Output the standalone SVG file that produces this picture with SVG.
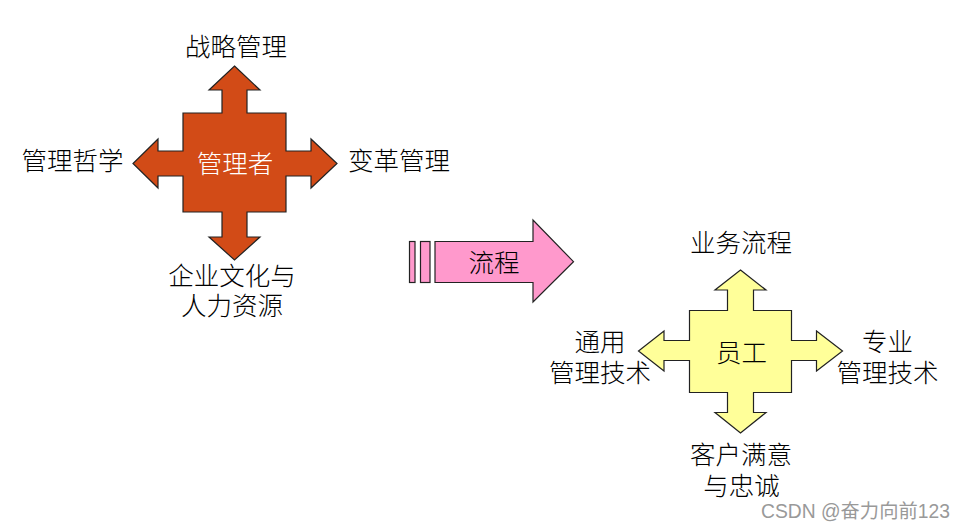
<svg xmlns="http://www.w3.org/2000/svg" width="965" height="532" viewBox="0 0 965 532">
<style>
.shape{stroke:#222;stroke-width:1.2;stroke-linejoin:miter}
.t{font-family:"Noto Sans CJK SC","Noto Sans",sans-serif;font-size:25.5px;font-weight:300;fill:#000;text-anchor:middle}
.w{fill:#fff}
.wm{font-family:"Liberation Sans","Noto Sans CJK SC",sans-serif;font-size:19.3px;fill:#999}
</style>
<rect width="965" height="532" fill="#fff"/>
<g id="manager">
<path class="shape" fill="#D24B17" d="M234.5,66 L260,90 L247,90 L247,113 L286,113 L286,151 L311,151 L311,139 L337,163.5 L311,188 L311,176 L286,176 L286,212 L247,212 L247,237 L260,237 L234.5,260 L209,237 L222,237 L222,212 L183,212 L183,176 L158,176 L158,188 L133,163.5 L158,139 L158,151 L183,151 L183,113 L222,113 L222,90 L209,90 Z"/>
<text class="t w" x="235" y="173">管理者</text>
</g>
<g id="strategy"><text class="t" x="236" y="55.5">战略管理</text></g>
<g id="philosophy"><text class="t" x="72.5" y="170">管理哲学</text></g>
<g id="change"><text class="t" x="399" y="170">变革管理</text></g>
<g id="culture"><text class="t" x="232" y="285">企业文化与</text><text class="t" x="232" y="315">人力资源</text></g>
<g id="process">
<rect class="shape" fill="#FF99CC" x="409.5" y="241.5" width="5.5" height="41"/>
<rect class="shape" fill="#FF99CC" x="420.5" y="241.5" width="9.5" height="41"/>
<path class="shape" fill="#FF99CC" d="M435,241.5 L533,241.5 L533,220 L573.5,261.7 L533,302 L533,282.5 L435,282.5 Z"/>
<text class="t" x="494" y="271.5">流程</text>
</g>
<g id="employee">
<path class="shape" fill="#FFFF99" d="M740.5,270 L766,290 L753.5,290 L753.5,310.5 L791.5,310.5 L791.5,340.5 L816.5,340.5 L816.5,331 L842.5,351 L816.5,371 L816.5,360.5 L791.5,360.5 L791.5,392.5 L753.5,392.5 L753.5,412.5 L766,412.5 L740.5,433 L715,412.5 L727.5,412.5 L727.5,392.5 L689.5,392.5 L689.5,360.5 L664,360.5 L664,371 L638.5,351 L664,331 L664,340.5 L689.5,340.5 L689.5,310.5 L727.5,310.5 L727.5,290 L715,290 Z"/>
<text class="t" x="741.5" y="362">员工</text>
</g>
<g id="business"><text class="t" x="741" y="252.3">业务流程</text></g>
<g id="general"><text class="t" x="600" y="350.7">通用</text><text class="t" x="600" y="381.5">管理技术</text></g>
<g id="professional"><text class="t" x="887.5" y="350.7">专业</text><text class="t" x="887.5" y="381.5">管理技术</text></g>
<g id="customer"><text class="t" x="741" y="464.3">客户满意</text><text class="t" x="741.5" y="495">与忠诚</text></g>
<g id="connectors"></g>
<text class="wm" x="761" y="518">CSDN @奋力向前123</text>
</svg>
